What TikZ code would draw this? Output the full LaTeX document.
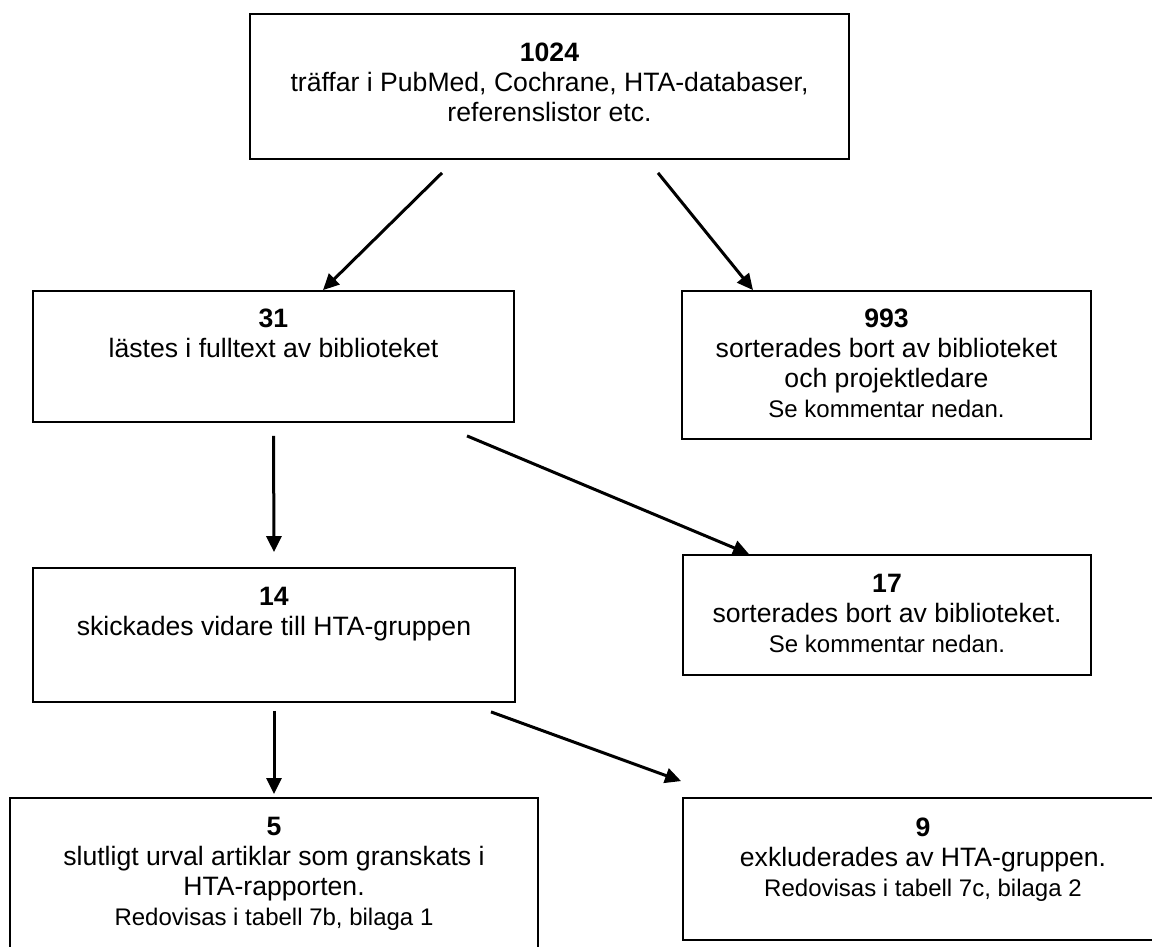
\documentclass[tikz,border=0pt]{standalone}
\usepackage{fontspec}
\setmainfont{Liberation Sans}
\usetikzlibrary{positioning, calc, arrows.meta}

\begin{document}
\begin{tikzpicture}[
  x=0.5pt, y=-0.5pt,
  box/.style={rectangle, draw=black, line width=0.9pt, inner sep=0pt},
  txt/.style={inner sep=0pt, align=center,
              font=\fontsize{13.3}{15}\selectfont},
  arrow/.style={-{Triangle[length=8pt, width=7.5pt]}, line width=1.5pt}
]
\useasboundingbox (0,0) rectangle (1152,947);

% Row 1 — search
\node[box, minimum width=299.5pt, minimum height=72.5pt] (hits) at (549.5,86.5) {};
\node[txt, below=14.5pt of hits.north] (hits-t)
  {\textbf{1024}\\träffar i PubMed, Cochrane, HTA-databaser,\\referenslistor etc.};

% Row 2 — library
\node[box, minimum width=240.5pt, minimum height=65.5pt] (read) at (273.5,356.5) {};
\node[txt, below=9pt of read.north] (read-t)
  {\textbf{31}\\lästes i fulltext av biblioteket};
\node[box, minimum width=204.5pt, minimum height=74pt] (outA) at (886.5,365) {};
\node[txt, below=9pt of outA.north] (outA-t)
  {\textbf{993}\\sorterades bort av biblioteket\\och projektledare\\{\fontsize{12}{15}\selectfont Se kommentar nedan.}};

% Row 3 — HTA group
\node[box, minimum width=241pt, minimum height=67pt] (sent) at (274,635) {};
\node[txt, below=10pt of sent.north] (sent-t)
  {\textbf{14}\\skickades vidare till HTA-gruppen};
\node[box, minimum width=204pt, minimum height=60pt] (outB) at (887,615) {};
\node[txt, below=10pt of outB.north] (outB-t)
  {\textbf{17}\\sorterades bort av biblioteket.\\{\fontsize{12}{15}\selectfont Se kommentar nedan.}};

% Row 4 — result
\node[box, minimum width=264pt, minimum height=76pt] (final) at (274,874) {};
\node[txt, below=10pt of final.north] (final-t)
  {\textbf{5}\\slutligt urval artiklar som granskats i\\HTA-rapporten.\\{\fontsize{12}{15}\selectfont Redovisas i tabell 7b, bilaga 1}};
\node[box, minimum width=240pt, minimum height=71pt] (excl) at (923,869) {};
\node[txt, below=10pt of excl.north] (excl-t)
  {\textbf{9}\\exkluderades av HTA-gruppen.\\{\fontsize{12}{15}\selectfont Redovisas i tabell 7c, bilaga 2}};

% Arrows
\draw[arrow] ($(hits.south)+(-107.5,13)$) -- ($(read.north)+(49.5,0)$);
\draw[arrow] ($(hits.south)+(108.5,13)$) -- ($(outA.north)+(-133.5,0)$);
\draw[arrow] ($(read.south)+(0,13)$) -- ($(sent.north)+(0,-15)$);
\draw[arrow] ($(read.south)+(193.5,13)$) -- ($(outB.north)+(-138,0)$);
\draw[arrow] ($(sent.south)+(0,8)$) -- ($(final.north)+(0,-3)$);
\draw[arrow] ($(sent.south)+(217,9)$) -- ($(excl.north west)+(-1,-16)$);

\end{tikzpicture}
\end{document}
